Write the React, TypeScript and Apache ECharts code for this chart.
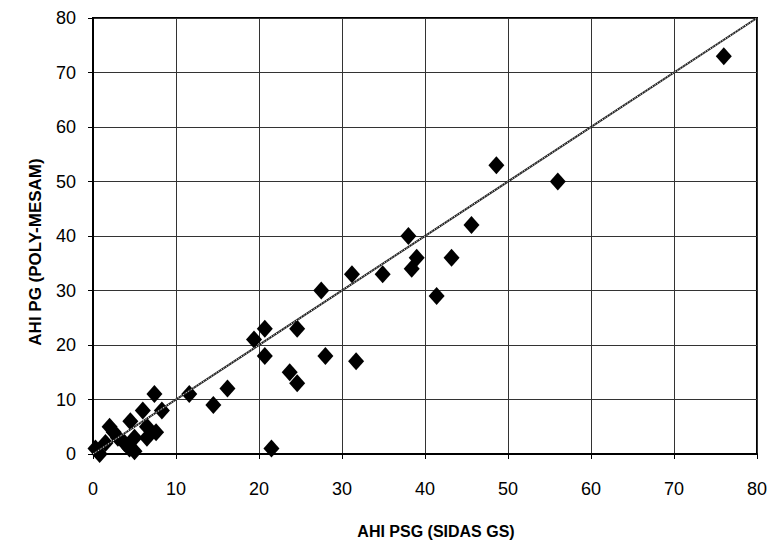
import React, { useEffect, useRef } from "react";
import * as echarts from "echarts";

const psg: number[] = [
  0.3, 0.8, 1.5, 2, 2.5, 3, 3.8, 4.4, 4.5, 5, 5, 6, 6.5, 6.5, 7.4, 7.6, 8.3,
  11.6, 14.5, 16.2, 19.4, 20.7, 20.7, 21.5, 23.7, 24.6, 24.6, 27.5, 28, 31.2,
  31.7, 34.9, 38, 38.4, 39, 41.4, 43.2, 45.6, 48.6, 56, 76,
];
const pg: number[] = [
  1, 0, 2, 5, 4, 3, 2, 1, 6, 3, 0.5, 8, 3, 5, 11, 4, 8,
  11, 9, 12, 21, 23, 18, 1, 15, 23, 13, 30, 18, 33,
  17, 33, 40, 34, 36, 29, 36, 42, 53, 50, 73,
];
const identityLine: number[][] = [
  [0, 0],
  [80, 80],
];
const tickValues: number[] = [0, 10, 20, 30, 40, 50, 60, 70, 80];
const xTitle = "AHI PSG (SIDAS GS)";
const yTitle = "AHI PG (POLY-MESAM)";

export default function App() {
  const ref = useRef<HTMLDivElement>(null);
  useEffect(() => {
    if (!ref.current) return;
    const chart = echarts.init(ref.current, null, { renderer: "svg" });
    const points = psg.map((x, i) => [x, pg[i]]);
    const axisCommon = {
      type: "value" as const,
      min: tickValues[0],
      max: tickValues[tickValues.length - 1],
      interval: 10,
      axisLine: { show: true, onZero: false, lineStyle: { color: "#000", width: 2 } },
      axisTick: { show: true, length: 5, inside: false, lineStyle: { color: "#000", width: 1 } },
      splitLine: { show: true, lineStyle: { color: "#333", width: 1 } },
      axisLabel: {
        color: "#000",
        fontSize: 18,
        fontFamily: "Liberation Sans, Arial, sans-serif",
      },
    };
    chart.setOption({
      animation: false,
      backgroundColor: "#fff",
      grid: {
        left: 93,
        right: 10,
        top: 18,
        bottom: 93,
        show: true,
        borderColor: "#000",
        borderWidth: 2,
        backgroundColor: "transparent",
      },
      xAxis: {
        ...axisCommon,
        axisLabel: { ...axisCommon.axisLabel, margin: 26 },
      },
      yAxis: {
        ...axisCommon,
        axisLabel: { ...axisCommon.axisLabel, margin: 17 },
      },
      graphic: [
        {
          type: "text",
          x: 436,
          y: 531,
          style: {
            text: xTitle,
            align: "center",
            verticalAlign: "middle",
            font: "bold 16px 'Liberation Sans', Arial, sans-serif",
            fill: "#000",
          },
        },
        {
          type: "text",
          x: 35,
          y: 252,
          rotation: Math.PI / 2,
          style: {
            text: yTitle,
            align: "center",
            verticalAlign: "middle",
            font: "bold 17px 'Liberation Sans', Arial, sans-serif",
            fill: "#000",
          },
        },
      ],
      series: [
        {
          type: "scatter",
          data: points,
          symbol: "diamond",
          symbolSize: [16, 18],
          itemStyle: { color: "#000", opacity: 1 },
          z: 2,
        },
        {
          type: "line",
          data: identityLine,
          showSymbol: false,
          symbol: "none",
          lineStyle: { color: "#222", width: 2 },
          z: 3,
        },
        {
          type: "line",
          data: identityLine,
          showSymbol: false,
          symbol: "none",
          lineStyle: { color: "#fff", width: 1, type: [1, 2] },
          z: 4,
        },
      ],
    });
    return () => chart.dispose();
  }, []);
  return (
    <div
      ref={ref}
      style={{ position: "absolute", left: 0, top: 0, width: 770, height: 547 }}
    />
  );
}
